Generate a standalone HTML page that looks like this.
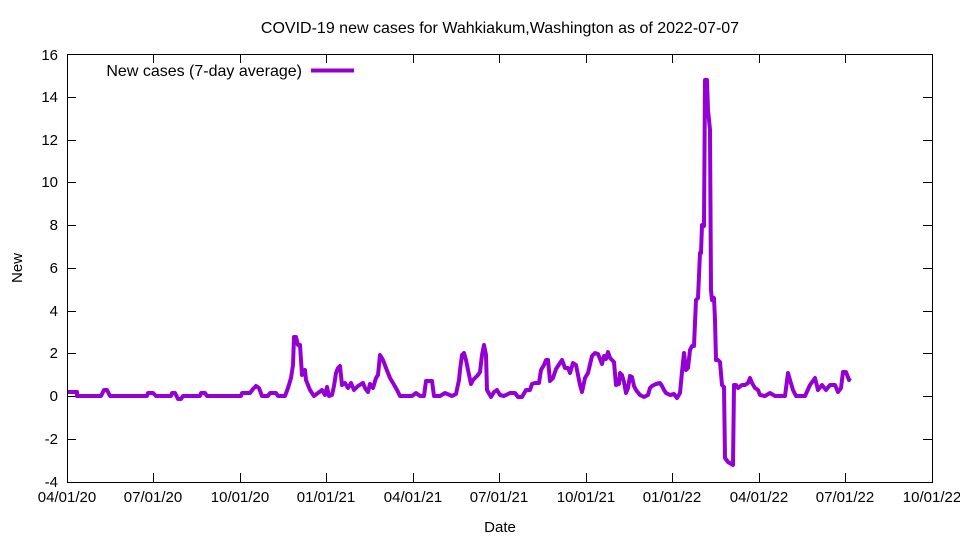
<!DOCTYPE html>
<html><head><meta charset="utf-8"><style>
body{margin:0;background:#fff}
svg{display:block}
text{font-family:"Liberation Sans",sans-serif;font-size:16px;fill:#000}
.t{font-size:15px}
</style></head><body>
<svg width="960" height="540" viewBox="0 0 960 540">
<rect x="67.5" y="54.5" width="865" height="428" fill="none" stroke="#000" stroke-width="1"/>
<g stroke="#000" stroke-width="1">
<path d="M67 482.5h9M932 482.5h-9M67 439.5h9M932 439.5h-9M67 396.5h9M932 396.5h-9M67 353.5h9M932 353.5h-9M67 311.5h9M932 311.5h-9M67 268.5h9M932 268.5h-9M67 225.5h9M932 225.5h-9M67 182.5h9M932 182.5h-9M67 140.5h9M932 140.5h-9M67 97.5h9M932 97.5h-9M67 54.5h9M932 54.5h-9"/>
<path d="M153.5 482v-9M153.5 54v9M240.5 482v-9M240.5 54v9M326.5 482v-9M326.5 54v9M413.5 482v-9M413.5 54v9M499.5 482v-9M499.5 54v9M586.5 482v-9M586.5 54v9M672.5 482v-9M672.5 54v9M759.5 482v-9M759.5 54v9M845.5 482v-9M845.5 54v9"/>
</g>
<g text-anchor="end" class="t">
<text class="t" x="58" y="487">-4</text><text class="t" x="58" y="444">-2</text><text class="t" x="58" y="401">0</text><text class="t" x="58" y="358">2</text><text class="t" x="58" y="316">4</text><text class="t" x="58" y="273">6</text><text class="t" x="58" y="230">8</text><text class="t" x="58" y="187">10</text><text class="t" x="58" y="145">12</text><text class="t" x="58" y="102">14</text><text class="t" x="58" y="60">16</text>
</g>
<g text-anchor="middle">
<text class="t" x="67" y="502">04/01/20</text><text class="t" x="153" y="502">07/01/20</text><text class="t" x="240" y="502">10/01/20</text><text class="t" x="326" y="502">01/01/21</text><text class="t" x="413" y="502">04/01/21</text><text class="t" x="499" y="502">07/01/21</text><text class="t" x="586" y="502">10/01/21</text><text class="t" x="672" y="502">01/01/22</text><text class="t" x="759" y="502">04/01/22</text><text class="t" x="845" y="502">07/01/22</text><text class="t" x="932" y="502">10/01/22</text>
<text class="t" x="500" y="532">Date</text>
<text x="500" y="33">COVID-19 new cases for Wahkiakum,Washington as of 2022-07-07</text>
<text class="t" x="22" y="268" transform="rotate(-90 22 268)">New</text>
</g>
<text x="302" y="76" text-anchor="end">New cases (7-day average)</text>
<path d="M311 70.5h43" stroke="#9400d3" stroke-width="4"/>
<polyline fill="none" stroke="#9400d3" stroke-width="4" stroke-linejoin="round" points="
68,392 77,392 77,396 101,396 104,390 107,390 110,396 147,396 148,393 153,393 156,396 171,396 172,393 175,393 178,399 181,399 183,396 200,396 201,393 205,393 207,396 241,396 242,393 250,393 253,389 256,386 259,388 262,396 268,396 270,393 276,393 278,396 285,396 288,388 291,378 293,365 294,337 296,337 298,345 300,345 302,375 305,370 306,380 310,390 314,396 318,393 322,390 325,395 327,387 329,396 332,395 334,386 336,373 338,368 340,366 342,385 345,383 348,388 351,383 354,390 358,386 363,383 365,388 368,392 370,384 373,388 376,378 378,375 380,355 383,360 386,368 390,378 393,383 397,390 400,396 412,396 416,393 420,396 424,396 426,381 432,381 434,396 440,396 445,393 452,396 456,394 459,380 460,370 462,355 464,353 466,360 468,370 471,384 473,380 476,377 478,375 480,372 482,355 484,345 486,355 487,390 491,397 494,392 497,390 500,395 504,396 510,393 515,393 518,397 522,397 526,390 530,390 532,384 535,383 539,383 541,370 544,365 546,360 548,360 550,381 553,378 556,369 558,366 562,360 565,368 568,368 570,373 573,363 576,365 578,375 580,385 582,392 585,378 588,373 592,356 595,353 598,354 602,364 604,356 606,359 608,352 610,358 612,360 614,362 616,385 619,384 620,373 622,375 624,382 626,393 628,388 630,376 632,377 634,386 636,390 640,395 644,397 648,395 650,388 652,386 656,384 660,383 662,386 664,390 666,393 670,395 674,394 677,398 680,393 682,372 684,353 686,370 688,368 690,350 692,346 694,346 696,300 698,298 700,253 701,253 702,225 704,226 705,80 707,80 708,110 709,120 710,130 711,290 712,300 714,298 715,320 716,360 718,360 720,362 722,385 724,387 725,458 728,462 733,465 734,385 736,385 738,388 742,385 745,385 748,383 750,378 752,383 755,388 758,390 760,395 765,396 770,393 775,396 785,396 788,373 790,380 793,390 796,396 805,396 810,385 815,378 818,390 822,385 826,390 830,385 835,385 838,392 841,388 843,372 846,372 849,380 850,378"/>
</svg>
</body></html>
